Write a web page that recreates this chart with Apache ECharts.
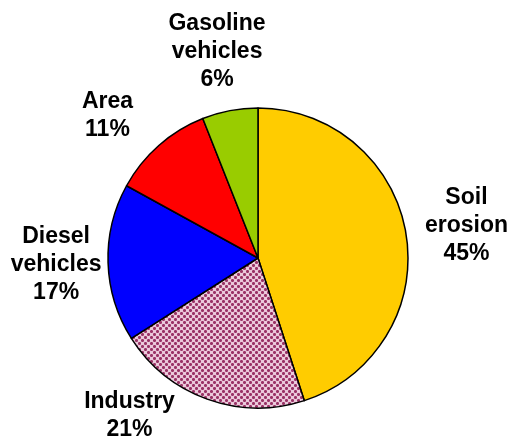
<!DOCTYPE html>
<html><head><meta charset="utf-8">
<script src="https://cdn.jsdelivr.net/npm/echarts@6/dist/echarts.min.js"></script>
<style>html,body{margin:0;padding:0;background:#fff}#c{width:512px;height:436px}</style>
</head><body><div id="c"></div>
<script>
const categories = ['Soil\nerosion', 'Industry', 'Diesel\nvehicles', 'Area', 'Gasoline\nvehicles'];
const shares = [45, 21, 17, 11, 6];

// pattern tile for Industry
const tile = document.createElement('canvas');
tile.width = 6; tile.height = 6;
const tc = tile.getContext('2d');
tc.fillStyle = '#EBCADB'; tc.fillRect(0, 0, 6, 6);
tc.fillStyle = '#B8668F';
[[0,0],[2,0],[0,2],[2,2],[3,3],[5,3],[3,5],[5,5]].forEach(p => tc.fillRect(p[0], p[1], 1, 1));
tc.fillStyle = '#993366';
[[1,0],[0,1],[1,1],[2,1],[1,2],[4,3],[3,4],[4,4],[5,4],[4,5]].forEach(p => tc.fillRect(p[0], p[1], 1, 1));

const colors = ['#FFCC00', {image: tile, repeat: 'repeat'}, '#0000FF', '#FF0000', '#99CC00'];

const CX = 258, CY = 258, R = 150, LD = 208;
const total = shares.reduce((a, b) => a + b, 0);
const mids = []; let acc = 0;
shares.forEach(v => { mids.push((acc + v / 2) / total * 2 * Math.PI); acc += v; });
const shift = {0: [3, 0], 1: [-58, -38], 2: [6, 0], 3: [-13, 14], 4: [-2, -2]};

const chart = echarts.init(document.getElementById('c'), null, {renderer: 'canvas'});
chart.setOption({
  animation: false,
  series: [{
    type: 'pie',
    center: [CX, CY],
    radius: [0, R],
    startAngle: 90,
    clockwise: true,
    data: shares.map((v, i) => ({value: v, name: categories[i], itemStyle: {color: colors[i]}})),
    itemStyle: {borderColor: '#000', borderWidth: 1.5},
    label: {
      show: true, position: 'outside', overflow: 'none',
      formatter: p => p.name + '\n' + p.value + '%',
      fontFamily: 'Liberation Sans, Arial, sans-serif', fontWeight: 'bold',
      fontSize: 23, lineHeight: 28, color: '#000', align: 'center'
    },
    labelLine: {show: false},
    labelLayout: p => {
      const a = mids[p.dataIndex];
      const s = shift[p.dataIndex] || [0, 0];
      return {x: CX + LD * Math.sin(a) + s[0], y: CY - LD * Math.cos(a) + s[1], align: 'center', verticalAlign: 'middle'};
    },
    emphasis: {disabled: true}
  }]
});
</script></body></html>
